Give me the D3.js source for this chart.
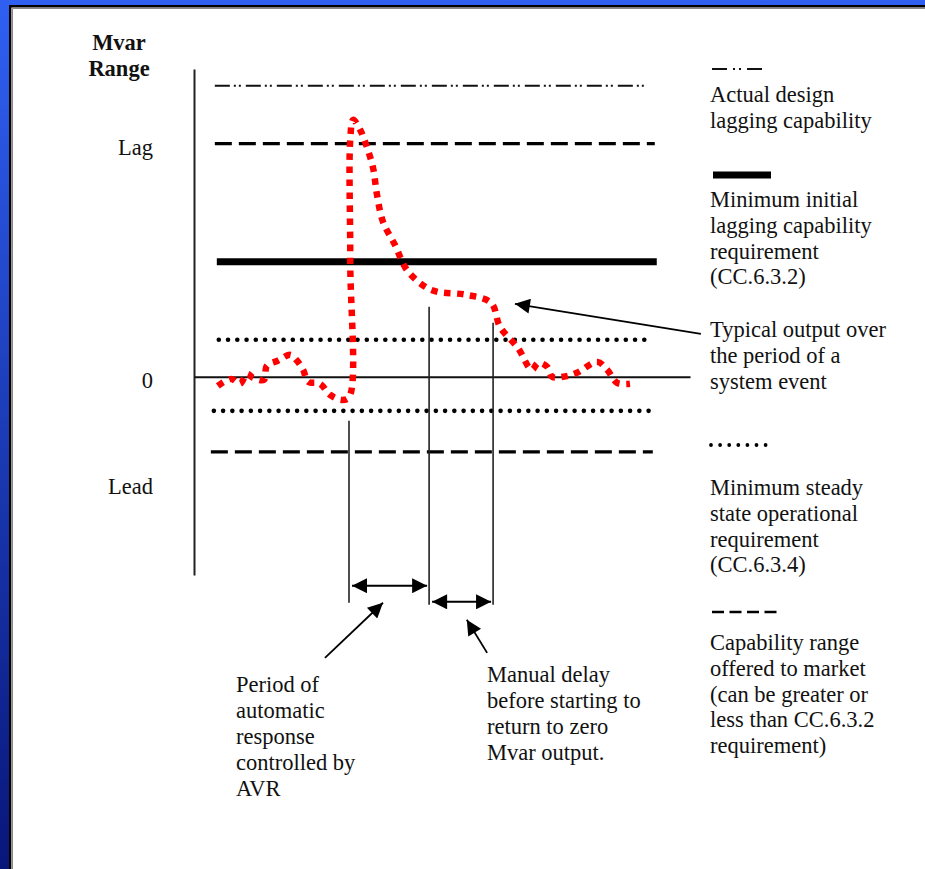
<!DOCTYPE html>
<html>
<head>
<meta charset="utf-8">
<script src="https://cdn.jsdelivr.net/npm/d3@7"></script>
<style>
  html, body { margin: 0; padding: 0; background: #fff; }
  svg { display: block; }
  text { font-family: "Liberation Serif", "Times New Roman", serif; font-size: 22.5px; fill: #111; }
</style>
</head>
<body>
<svg id="chart"></svg>
<script>
// time axis is arbitrary (0..100), Mvar axis in arbitrary units (lag capability = 100)
const timeDomain = [0, 100];
const mvarDomain = [-85, 132];

// typical output over the period of a system event
const outputTime = [4.8, 7.5, 9.3, 10.7, 11.9, 14.1, 14.7, 16.9, 19.4, 20.6,
  22.0, 23.0, 25.4, 27.4, 29.8, 31.3, 31.5, 31.5, 32.1, 33.5,
  34.7, 36.1, 36.9, 38.1, 40.5, 42.9, 46.6, 49.2, 54.8, 59.9,
  61.7, 65.3, 68.1, 69.4, 71.2, 72.2, 74.4, 77.2, 81.3, 83.3,
  85.3, 87.9];
const outputMvar = [-3.9, -0.9, -3.0, 1.3, -0.4, -1.3, 4.7, 6.9, 9.4, 7.3,
  3.0, -2.1, -3.0, -7.7, -9.9, -8.6, 50.2, 101.6, 110.2, 105.9,
  99.5, 89.6, 78.0, 66.5, 56.6, 45.9, 38.6, 36.4, 35.2, 31.7,
  21.4, 12.4, 3.0, 6.0, 4.3, 0.0, 0.0, 1.7, 6.4, 3.0,
  -2.6, -3.0];

// reference levels
const levelKeys = ['design', 'lag', 'initial', 'steadyLag', 'steadyLead', 'lead'];
const levelMvar = [124.8, 100, 49.3, 15.9, -14.6, -32.2];
const levelStart = [4.2, 4.2, 4.6, 5.0, 4.0, 3.4];
const levelEnd = [90.9, 92.9, 93.3, 92.5, 91.9, 92.5];

// event markers (vertical lines) and the two periods between them
const markerTime = [31.25, 47.4, 60.3];
const markerTop = [-18.9, 30.0, 23.2];
const markerBottom = [-96.9, -97.8, -97.8];
const periodMvar = [-89.6, -96.5];

// y axis labels
const yLabelText = ['Lag', '0', 'Lead'];
const yLabelValues = [98.3, -1.6, -47.1];

const legendKeys = ['design', 'initial', 'output', 'steadyLag', 'lead'];
const legendLabels = [
  ['Actual design', 'lagging capability'],
  ['Minimum initial', 'lagging capability', 'requirement', '(CC.6.3.2)'],
  ['Typical output over', 'the period of a', 'system event'],
  ['Minimum steady', 'state operational', 'requirement', '(CC.6.3.4)'],
  ['Capability range', 'offered to market', '(can be greater or', 'less than CC.6.3.2', 'requirement)']
];
const periodNotes = [
  ['Period of', 'automatic', 'response', 'controlled by', 'AVR'],
  ['Manual delay', 'before starting to', 'return to zero', 'Mvar output.']
];

const W = 925, H = 869;
const margin = {top: 69, left: 194, right: 235, bottom: 294};
const width = W - margin.left - margin.right;
const height = H - margin.top - margin.bottom;

const lineStyles = {
  design: {stroke: '#111', width: 2, dash: '15,4,2,3,2,5', cap: 'butt'},
  lag: {stroke: '#000', width: 3.3, dash: '17,7', cap: 'butt'},
  initial: {stroke: '#000', width: 7, dash: null, cap: 'butt'},
  steadyLag: {stroke: '#000', width: 4.6, dash: '0,9.25', cap: 'round'},
  steadyLead: {stroke: '#000', width: 4.6, dash: '0,9.25', cap: 'round'},
  lead: {stroke: '#000', width: 3.3, dash: '17,7', cap: 'butt'}
};

const svg = d3.select('#chart').attr('width', W).attr('height', H);
const defs = svg.append('defs');

const bg = defs.append('linearGradient').attr('id', 'bg')
    .attr('x1', 0).attr('y1', 0).attr('x2', 0).attr('y2', 1);
bg.append('stop').attr('offset', '0%').attr('stop-color', '#2f60f2');
bg.append('stop').attr('offset', '100%').attr('stop-color', '#08167a');

defs.append('marker')
    .attr('id', 'head')
    .attr('viewBox', '0 0 10 10')
    .attr('refX', 10).attr('refY', 5)
    .attr('markerWidth', 18).attr('markerHeight', 15)
    .attr('markerUnits', 'userSpaceOnUse')
    .attr('orient', 'auto-start-reverse')
  .append('path')
    .attr('d', 'M0,0L10,5L0,10Z')
    .attr('fill', '#000');

// slide background and panel
svg.append('rect').attr('width', W).attr('height', H).attr('fill', 'url(#bg)');
svg.append('rect').attr('x', 10).attr('y', 6).attr('width', W).attr('height', H).attr('fill', '#fff');
svg.append('path').attr('d', `M10.2,${H}V6.2H${W}`).attr('fill', 'none').attr('stroke', '#000').attr('stroke-width', 2.4);
svg.append('path').attr('d', `M12.5,${H}V8.5H${W}`).attr('fill', 'none').attr('stroke', '#888').attr('stroke-width', 1);

const x = d3.scaleLinear().domain(timeDomain).range([0, width]);
const y = d3.scaleLinear().domain(mvarDomain).range([height, 0]);

const chart = svg.append('g').attr('transform', `translate(${margin.left},${margin.top})`);

function styleLine(sel, st) {
  sel.attr('fill', 'none')
      .attr('stroke', st.stroke)
      .attr('stroke-width', st.width)
      .attr('stroke-linecap', st.cap)
      .attr('stroke-dasharray', st.dash);
}

// axes
const yAxis = chart.append('g')
    .call(d3.axisLeft(y).tickValues(yLabelValues).tickFormat((d, i) => yLabelText[i]).tickSize(0).tickPadding(41));
yAxis.select('.domain').attr('stroke', '#222').attr('stroke-width', 2);
yAxis.selectAll('text').attr('font-family', null).attr('font-size', null);

const xAxis = chart.append('g')
    .attr('transform', `translate(0,${y(0)})`)
    .call(d3.axisBottom(x).tickValues([]).tickSizeOuter(0));
xAxis.select('.domain').attr('stroke', '#111').attr('stroke-width', 2);

// reference levels
levelKeys.forEach((k, i) => {
  chart.append('line')
      .attr('x1', x(levelStart[i])).attr('x2', x(levelEnd[i]))
      .attr('y1', y(levelMvar[i])).attr('y2', y(levelMvar[i]))
      .call(styleLine, lineStyles[k]);
});

// vertical event markers
markerTime.forEach((t, i) => {
  chart.append('line')
      .attr('x1', x(t)).attr('x2', x(t))
      .attr('y1', y(markerTop[i])).attr('y2', y(markerBottom[i]))
      .attr('stroke', '#222').attr('stroke-width', 1.6);
});

// period arrows
periodMvar.forEach((v, i) => {
  chart.append('line')
      .attr('x1', x(markerTime[i]) + 3).attr('x2', x(markerTime[i + 1]) - 2)
      .attr('y1', y(v)).attr('y2', y(v))
      .attr('stroke', '#000').attr('stroke-width', 2)
      .attr('marker-start', 'url(#head)')
      .attr('marker-end', 'url(#head)');
});

// output curve
const line = d3.line()
    .x((d, i) => x(outputTime[i]))
    .y(d => y(d))
    .curve(d3.curveCatmullRom.alpha(0.5));

chart.append('path')
    .datum(outputMvar)
    .attr('d', line)
    .attr('fill', 'none')
    .attr('stroke', '#ff0000')
    .attr('stroke-width', 6.5)
    .attr('stroke-dasharray', '6.5,6.5');

// pointer arrows (tail -> tip, in data units)
const pointers = [
  [[26.4, -120.5], [38.1, -96.9]],
  [[59.1, -118.4], [55.0, -104.2]],
  [[102.2, 18.4], [64.7, 31.3]]
];
pointers.forEach(p => {
  chart.append('line')
      .attr('x1', x(p[0][0])).attr('y1', y(p[0][1]))
      .attr('x2', x(p[1][0])).attr('y2', y(p[1][1]))
      .attr('stroke', '#000').attr('stroke-width', 1.8)
      .attr('marker-end', 'url(#head)');
});

// text helpers
const text = svg.append('g');
function addLines(x0, y0, lines, step) {
  const t = text.append('text').attr('x', x0).attr('y', y0);
  lines.forEach((s, i) => {
    t.append('tspan').attr('x', x0).attr('y', y0 + i * step).text(s);
  });
  return t;
}

addLines(119, 50, ['Mvar', 'Range'], 26)
    .attr('text-anchor', 'middle').attr('font-weight', 'bold');

addLines(236, 692, periodNotes[0], 26);
addLines(487, 682, periodNotes[1], 26);

// legend
const legend = svg.append('g');
const legendSample = [69, 175, null, 445, 612];
const legendText = [102, 207, 337, 495, 650];
const sampleStyle = {
  design: {stroke: '#111', width: 2.2, dash: '15,6,2,4,2,6', cap: 'butt'},
  initial: {stroke: '#000', width: 7, dash: null, cap: 'butt'},
  steadyLag: {stroke: '#000', width: 3.8, dash: '0,9.1', cap: 'round'},
  lead: {stroke: '#000', width: 2.6, dash: '12,5.5', cap: 'butt'}
};
const sampleX = {design: [712, 768], initial: [713, 771], steadyLag: [711, 767], lead: [712, 778]};

legendKeys.forEach((k, i) => {
  if (legendSample[i] !== null) {
    legend.append('line')
        .attr('x1', sampleX[k][0]).attr('x2', sampleX[k][1])
        .attr('y1', legendSample[i]).attr('y2', legendSample[i])
        .call(styleLine, sampleStyle[k]);
  }
  addLines(710, legendText[i], legendLabels[i], 25.8);
});
</script>
</body>
</html>
